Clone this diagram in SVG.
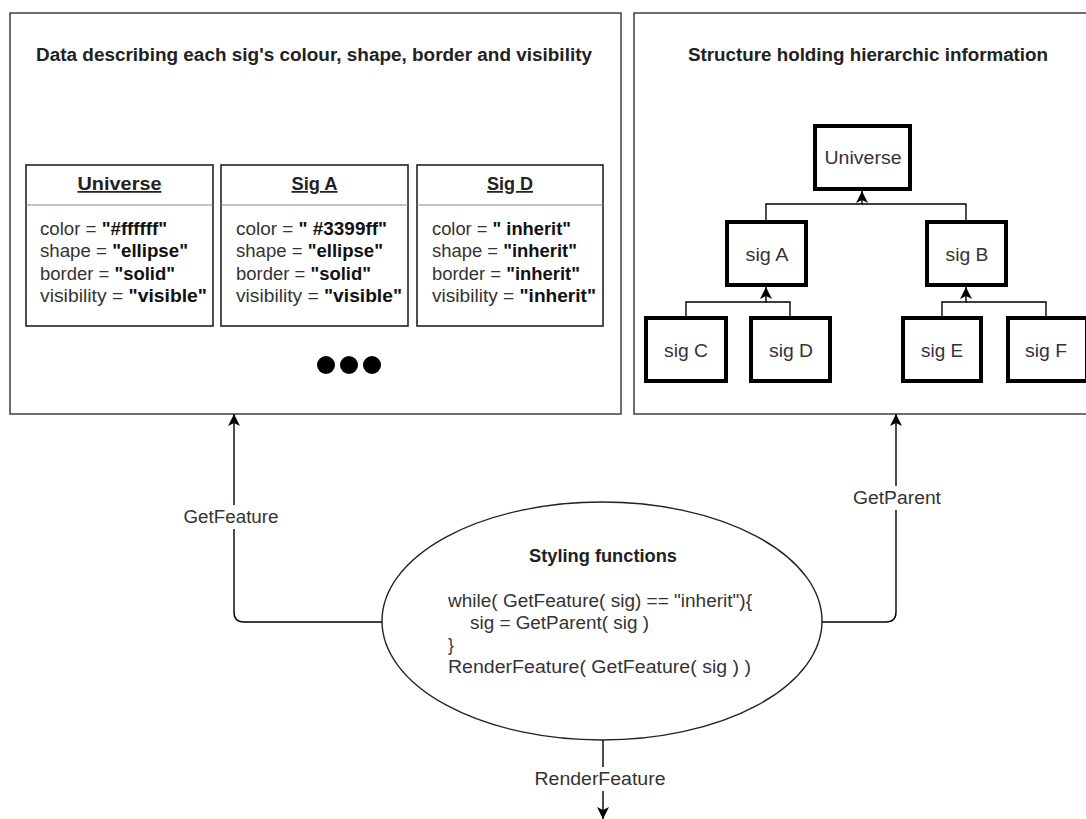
<svg xmlns="http://www.w3.org/2000/svg" width="1086" height="819" viewBox="0 0 1086 819">
  <style>
    text { font-family: "Liberation Sans", Arial, Helvetica, sans-serif; fill: #333; }
    .title { font-size: 17.5px; font-weight: bold; text-anchor: middle; fill: #222; }
    .row { font-size: 17.5px; }
    .row tspan.v { font-weight: bold; fill: #111; }
    .hdr { font-size: 17.5px; font-weight: bold; text-anchor: middle; text-decoration: underline; fill: #222; }
    .panel { fill: #fff; stroke: #333; stroke-width: 1.4; }
    .tbl { fill: #fff; stroke: #222; stroke-width: 1.6; }
    .div { stroke: #888; stroke-width: 1; }
    .tnode rect { fill: #fff; stroke: #000; stroke-width: 4; }
    .tnode text { font-size: 17.5px; text-anchor: middle; }
    .edge { fill: none; stroke: #000; stroke-width: 1.4; }
    .lbl { font-size: 17.5px; text-anchor: middle; }
    .lblbg { fill: #fff; }
  </style>
  <defs>
    <marker id="arrow" viewBox="0 0 13 13" refX="12" refY="6.5" markerWidth="13" markerHeight="13" markerUnits="userSpaceOnUse" orient="auto">
      <path d="M0,0.5 L12,6.5 L0,12.5 L3,6.5 Z" fill="#000"/>
    </marker>
  </defs>

  <!-- left container: per-sig feature data -->
  <g id="data-panel">
    <rect class="panel" x="10" y="13" width="611" height="401"/>
    <text class="title" x="314" y="61" textLength="556" lengthAdjust="spacingAndGlyphs">Data describing each sig's colour, shape, border and visibility</text>
  </g>

  <g id="table-universe">
    <rect class="tbl" x="26" y="165" width="187" height="161"/>
    <line class="div" x1="26" y1="205" x2="213" y2="205"/>
    <text class="hdr" x="119.5" y="190" textLength="84" lengthAdjust="spacingAndGlyphs">Universe</text>
    <text class="row" x="40" y="235" textLength="127" lengthAdjust="spacingAndGlyphs">color = <tspan class="v">"#ffffff"</tspan></text>
    <text class="row" x="40" y="257" textLength="148" lengthAdjust="spacingAndGlyphs">shape = <tspan class="v">"ellipse"</tspan></text>
    <text class="row" x="40" y="279.5" textLength="135" lengthAdjust="spacingAndGlyphs">border = <tspan class="v">"solid"</tspan></text>
    <text class="row" x="40" y="302" textLength="167" lengthAdjust="spacingAndGlyphs">visibility = <tspan class="v">"visible"</tspan></text>
  </g>

  <g id="table-sig-a">
    <rect class="tbl" x="221" y="165" width="187" height="161"/>
    <line class="div" x1="221" y1="205" x2="408" y2="205"/>
    <text class="hdr" x="314.5" y="190" textLength="46" lengthAdjust="spacingAndGlyphs">Sig A</text>
    <text class="row" x="236" y="235" textLength="151" lengthAdjust="spacingAndGlyphs">color = <tspan class="v">" #3399ff"</tspan></text>
    <text class="row" x="236" y="257" textLength="147" lengthAdjust="spacingAndGlyphs">shape = <tspan class="v">"ellipse"</tspan></text>
    <text class="row" x="236" y="279.5" textLength="135" lengthAdjust="spacingAndGlyphs">border = <tspan class="v">"solid"</tspan></text>
    <text class="row" x="236" y="302" textLength="166" lengthAdjust="spacingAndGlyphs">visibility = <tspan class="v">"visible"</tspan></text>
  </g>

  <g id="table-sig-d">
    <rect class="tbl" x="417" y="165" width="186" height="161"/>
    <line class="div" x1="417" y1="205" x2="603" y2="205"/>
    <text class="hdr" x="510" y="190" textLength="46" lengthAdjust="spacingAndGlyphs">Sig D</text>
    <text class="row" x="432" y="235" textLength="139" lengthAdjust="spacingAndGlyphs">color = <tspan class="v">" inherit"</tspan></text>
    <text class="row" x="432" y="257" textLength="145" lengthAdjust="spacingAndGlyphs">shape = <tspan class="v">"inherit"</tspan></text>
    <text class="row" x="432" y="279.5" textLength="148" lengthAdjust="spacingAndGlyphs">border = <tspan class="v">"inherit"</tspan></text>
    <text class="row" x="432" y="302" textLength="164" lengthAdjust="spacingAndGlyphs">visibility = <tspan class="v">"inherit"</tspan></text>
  </g>

  <g id="ellipsis">
    <circle cx="326" cy="365" r="9" fill="#000"/>
    <circle cx="349" cy="365" r="9" fill="#000"/>
    <circle cx="372" cy="365" r="9" fill="#000"/>
  </g>

  <!-- right container: hierarchy -->
  <g id="tree-panel">
    <rect class="panel" x="634" y="13" width="470" height="401"/>
    <text class="title" x="868" y="61" textLength="360" lengthAdjust="spacingAndGlyphs">Structure holding hierarchic information</text>
  </g>

  <g id="node-universe" class="tnode">
    <rect x="815" y="126" width="95" height="63"/>
    <text x="863" y="164" textLength="77" lengthAdjust="spacingAndGlyphs">Universe</text>
  </g>
  <g id="node-sig-a" class="tnode">
    <rect x="727" y="222" width="79" height="63"/>
    <text x="767" y="261" textLength="43" lengthAdjust="spacingAndGlyphs">sig A</text>
  </g>
  <g id="node-sig-b" class="tnode">
    <rect x="927" y="222" width="79" height="63"/>
    <text x="967" y="261" textLength="43" lengthAdjust="spacingAndGlyphs">sig B</text>
  </g>
  <g id="node-sig-c" class="tnode">
    <rect x="646" y="318" width="80" height="63"/>
    <text x="686" y="357" textLength="44" lengthAdjust="spacingAndGlyphs">sig C</text>
  </g>
  <g id="node-sig-d" class="tnode">
    <rect x="751" y="318" width="79" height="63"/>
    <text x="791" y="357" textLength="44" lengthAdjust="spacingAndGlyphs">sig D</text>
  </g>
  <g id="node-sig-e" class="tnode">
    <rect x="903" y="318" width="78" height="63"/>
    <text x="942" y="357" textLength="42" lengthAdjust="spacingAndGlyphs">sig E</text>
  </g>
  <g id="node-sig-f" class="tnode">
    <rect x="1008" y="318" width="79" height="63"/>
    <text x="1046" y="357" textLength="42" lengthAdjust="spacingAndGlyphs">sig F</text>
  </g>

  <!-- styling functions -->
  <g id="styling-functions">
    <ellipse cx="602" cy="621" rx="220" ry="119" fill="#fff" stroke="#222" stroke-width="1.4"/>
    <text class="title" x="603" y="562" textLength="148" lengthAdjust="spacingAndGlyphs">Styling functions</text>
    <text class="row" x="448" y="607" textLength="304" lengthAdjust="spacingAndGlyphs">while( GetFeature( sig) == "inherit"){</text>
    <text class="row" x="470" y="629" textLength="179" lengthAdjust="spacingAndGlyphs">sig = GetParent( sig )</text>
    <text class="row" x="448" y="651">}</text>
    <text class="row" x="448" y="673" textLength="303" lengthAdjust="spacingAndGlyphs">RenderFeature( GetFeature( sig ) )</text>
  </g>

  <g id="connectors">
    <path class="edge" d="M766,222 V204 H862 V191" marker-end="url(#arrow)"/>
    <path class="edge" d="M966,222 V204 H862"/>
    <path class="edge" d="M686,318 V302 H766 V287" marker-end="url(#arrow)"/>
    <path class="edge" d="M790,318 V302 H766"/>
    <path class="edge" d="M942,318 V302 H966 V287" marker-end="url(#arrow)"/>
    <path class="edge" d="M1046,318 V302 H966"/>

    <path class="edge" d="M382,622 H244 Q234,622 234,612 V414" marker-end="url(#arrow)"/>
    <rect class="lblbg" x="182" y="505" width="98" height="24"/>
    <text class="lbl" x="231" y="523" textLength="95" lengthAdjust="spacingAndGlyphs">GetFeature</text>

    <path class="edge" d="M822,622 H886 Q896,622 896,612 V414" marker-end="url(#arrow)"/>
    <rect class="lblbg" x="851" y="486" width="92" height="24"/>
    <text class="lbl" x="897" y="504" textLength="88" lengthAdjust="spacingAndGlyphs">GetParent</text>

    <path class="edge" d="M603,740 V819" marker-end="url(#arrow)"/>
    <rect class="lblbg" x="532" y="767" width="135" height="24"/>
    <text class="lbl" x="600" y="785" textLength="131" lengthAdjust="spacingAndGlyphs">RenderFeature</text>
  </g>
</svg>
